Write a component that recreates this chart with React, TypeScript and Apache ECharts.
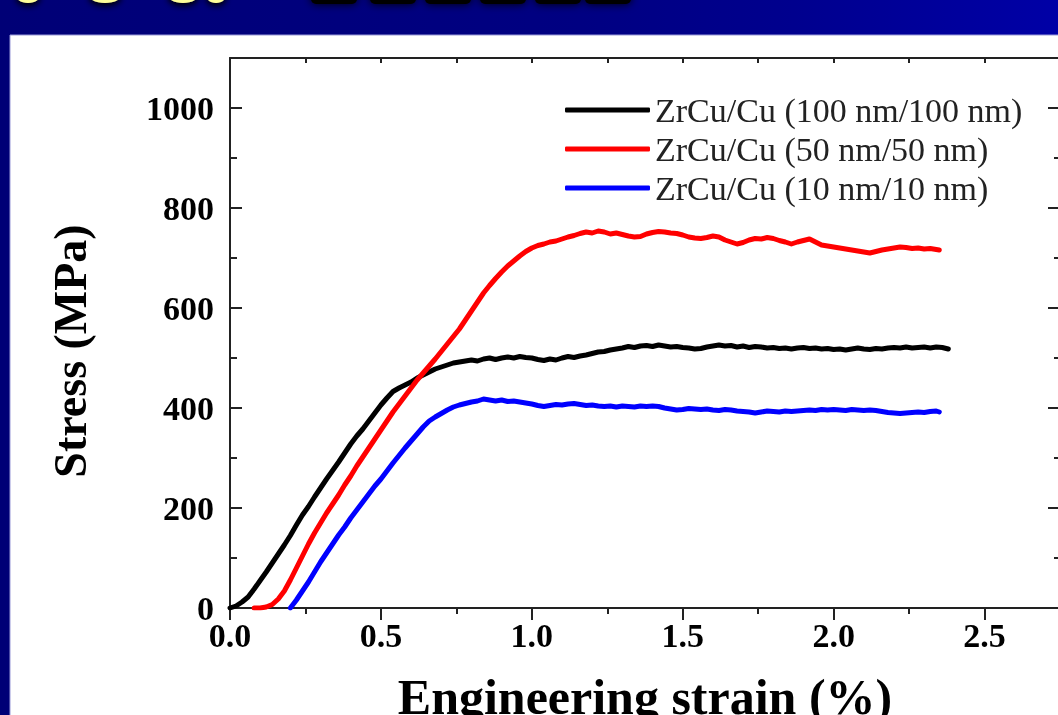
import React, { useEffect, useRef } from "react";
import * as echarts from "echarts";

// Stress–strain curves, [engineering strain (%), stress (MPa)]
const zrcu100: [number, number][] = [
  [0, 0], [0.02, 4], [0.04, 12], [0.06, 22], [0.08, 38], [0.1, 55], [0.12, 72], [0.14, 90],
  [0.16, 108], [0.18, 126], [0.2, 145], [0.22, 166], [0.24, 186], [0.26, 203], [0.28, 222],
  [0.3, 240], [0.32, 258], [0.34, 275], [0.36, 292], [0.38, 310], [0.4, 328], [0.42, 344],
  [0.44, 358], [0.46, 374], [0.48, 390], [0.5, 406], [0.52, 420], [0.54, 433], [0.56, 440],
  [0.58, 446], [0.6, 452], [0.62, 460], [0.64, 466], [0.66, 472], [0.68, 478], [0.7, 482],
  [0.72, 486], [0.74, 490], [0.76, 492], [0.78, 494], [0.8, 496], [0.82, 494], [0.84, 498],
  [0.86, 500], [0.88, 497], [0.9, 500], [0.92, 502], [0.94, 500], [0.96, 503], [0.98, 501],
  [1.0, 500], [1.02, 497], [1.04, 495], [1.06, 498], [1.08, 496], [1.1, 500], [1.12, 503],
  [1.14, 501], [1.16, 504], [1.18, 506], [1.2, 509], [1.22, 512], [1.24, 513], [1.26, 516],
  [1.28, 518], [1.3, 520], [1.32, 523], [1.34, 521], [1.36, 524], [1.38, 525], [1.4, 523],
  [1.42, 526], [1.44, 524], [1.46, 522], [1.48, 523], [1.5, 521], [1.52, 520], [1.54, 518],
  [1.56, 519], [1.58, 522], [1.6, 524], [1.62, 526], [1.64, 524], [1.66, 525], [1.68, 522],
  [1.7, 524], [1.72, 521], [1.74, 523], [1.76, 522], [1.78, 520], [1.8, 521], [1.82, 519],
  [1.84, 520], [1.86, 518], [1.88, 520], [1.9, 521], [1.92, 519], [1.94, 520], [1.96, 518],
  [1.98, 519], [2.0, 517], [2.02, 518], [2.04, 516], [2.06, 518], [2.08, 520], [2.1, 518],
  [2.12, 517], [2.14, 519], [2.16, 518], [2.18, 520], [2.2, 521], [2.22, 520], [2.24, 522],
  [2.26, 520], [2.28, 521], [2.3, 522], [2.32, 520], [2.34, 522], [2.36, 521], [2.38, 518],
];

const zrcu50: [number, number][] = [
  [0.08, 0], [0.1, 0], [0.12, 2], [0.14, 7], [0.16, 18], [0.18, 34], [0.2, 56], [0.22, 80],
  [0.24, 104], [0.26, 128], [0.28, 150], [0.3, 170], [0.32, 190], [0.34, 208], [0.36, 226],
  [0.38, 246], [0.4, 264], [0.42, 284], [0.44, 302], [0.46, 320], [0.48, 338], [0.5, 356],
  [0.52, 374], [0.54, 392], [0.56, 408], [0.58, 424], [0.6, 440], [0.62, 456], [0.64, 470],
  [0.66, 484], [0.68, 498], [0.7, 513], [0.72, 528], [0.74, 543], [0.76, 558], [0.78, 576],
  [0.8, 594], [0.82, 612], [0.84, 630], [0.86, 645], [0.88, 659], [0.9, 672], [0.92, 684],
  [0.94, 694], [0.96, 704], [0.98, 713], [1.0, 720], [1.02, 725], [1.04, 728], [1.06, 732],
  [1.08, 734], [1.1, 738], [1.12, 742], [1.14, 745], [1.16, 749], [1.18, 752], [1.2, 750],
  [1.22, 754], [1.24, 752], [1.26, 748], [1.28, 750], [1.3, 747], [1.32, 744], [1.34, 742],
  [1.36, 743], [1.38, 748], [1.4, 751], [1.42, 753], [1.44, 752], [1.46, 750], [1.48, 749],
  [1.5, 746], [1.52, 742], [1.54, 740], [1.56, 739], [1.58, 741], [1.6, 744], [1.62, 742],
  [1.64, 736], [1.66, 732], [1.68, 728], [1.7, 731], [1.72, 736], [1.74, 739], [1.76, 738],
  [1.78, 741], [1.8, 739], [1.82, 735], [1.84, 732], [1.86, 728], [1.88, 732], [1.9, 735],
  [1.92, 738], [1.94, 732], [1.96, 726], [1.98, 724], [2.0, 722], [2.02, 720], [2.04, 718],
  [2.06, 716], [2.08, 714], [2.1, 712], [2.12, 710], [2.14, 713], [2.16, 716], [2.18, 718],
  [2.2, 720], [2.22, 722], [2.24, 721], [2.26, 719], [2.28, 720], [2.3, 718], [2.32, 719],
  [2.34, 717], [2.35, 716],
];

const zrcu10: [number, number][] = [
  [0.2, 0], [0.22, 16], [0.24, 34], [0.26, 52], [0.28, 72], [0.3, 92], [0.32, 110], [0.34, 128],
  [0.36, 146], [0.38, 162], [0.4, 180], [0.42, 196], [0.44, 212], [0.46, 228], [0.48, 244],
  [0.5, 258], [0.52, 274], [0.54, 290], [0.56, 305], [0.58, 320], [0.6, 334], [0.62, 348],
  [0.64, 362], [0.66, 374], [0.68, 382], [0.7, 389], [0.72, 396], [0.74, 402], [0.76, 406],
  [0.78, 409], [0.8, 412], [0.82, 414], [0.84, 418], [0.86, 416], [0.88, 414], [0.9, 416],
  [0.92, 413], [0.94, 414], [0.96, 412], [0.98, 410], [1.0, 408], [1.02, 405], [1.04, 403],
  [1.06, 405], [1.08, 407], [1.1, 406], [1.12, 408], [1.14, 409], [1.16, 407], [1.18, 405],
  [1.2, 406], [1.22, 404], [1.24, 403], [1.26, 404], [1.28, 402], [1.3, 404], [1.32, 403],
  [1.34, 402], [1.36, 404], [1.38, 403], [1.4, 404], [1.42, 403], [1.44, 400], [1.46, 398],
  [1.48, 396], [1.5, 397], [1.52, 399], [1.54, 398], [1.56, 397], [1.58, 398], [1.6, 396],
  [1.62, 395], [1.64, 397], [1.66, 396], [1.68, 394], [1.7, 393], [1.72, 392], [1.74, 390],
  [1.76, 392], [1.78, 394], [1.8, 393], [1.82, 392], [1.84, 394], [1.86, 393], [1.88, 394],
  [1.9, 395], [1.92, 396], [1.94, 395], [1.96, 397], [1.98, 396], [2.0, 397], [2.02, 396],
  [2.04, 395], [2.06, 397], [2.08, 396], [2.1, 395], [2.12, 396], [2.14, 395], [2.16, 393],
  [2.18, 391], [2.2, 390], [2.22, 389], [2.24, 390], [2.26, 391], [2.28, 392], [2.3, 391],
  [2.32, 393], [2.34, 394], [2.35, 392],
];

const seriesNames = [
  "ZrCu/Cu (100 nm/100 nm)",
  "ZrCu/Cu (50 nm/50 nm)",
  "ZrCu/Cu (10 nm/10 nm)",
];
const seriesColors = ["#000000", "#ff0000", "#0000ff"];
const seriesData = [zrcu100, zrcu50, zrcu10];

const xTitle = "Engineering strain (%)";
const yTitle = "Stress (MPa)";

const FONT = "'Liberation Serif', 'Times New Roman', serif";
const AXIS = "#222";

export default function App() {
  const ref = useRef<HTMLDivElement>(null);

  useEffect(() => {
    if (!ref.current) return;
    const chart = echarts.init(ref.current, undefined, { renderer: "svg" });

    const tickStyle = { color: AXIS, width: 2 };
    const xBase = { type: "value" as const, min: 0, max: 2.75, splitLine: { show: false } };
    const yBase = { type: "value" as const, min: 0, max: 1100, splitLine: { show: false } };

    chart.setOption({
      animation: false,
      textStyle: { fontFamily: FONT },
      graphic: [
        // slide background
        {
          type: "rect",
          z: -20,
          shape: { x: 0, y: 0, width: 1058, height: 715 },
          style: {
            fill: new echarts.graphic.LinearGradient(0, 0, 1, 0, [
              { offset: 0, color: "#000076" },
              { offset: 0.55, color: "#000082" },
              { offset: 0.75, color: "#00008e" },
              { offset: 1, color: "#0000a6" },
            ]),
          },
        },
        {
          type: "rect",
          z: -19,
          shape: { x: 10, y: 35, width: 1060, height: 700 },
          style: { fill: "#ffffff", stroke: "#9a9ad8", lineWidth: 1 },
        },
        // clipped slide heading
        ...[
          [28, 12],
          [105, 16],
          [183, 15],
          [216, 10],
        ].map(([cx, rx]) => ({
          type: "ellipse",
          z: -18,
          shape: { cx, cy: -5, rx, ry: 8 },
          style: { fill: "#ffff99", shadowBlur: 6, shadowColor: "#000", shadowOffsetY: 3 },
        })),
        ...[311, 370, 425, 480, 535, 585].map((x) => ({
          type: "rect",
          z: -18,
          shape: { x, y: -14, width: 46, height: 18, r: 5 },
          style: { fill: "#000", shadowBlur: 8, shadowColor: "#000" },
        })),
      ],
      grid: {
        left: 230,
        top: 58,
        width: 830,
        height: 550,
        containLabel: false,
        outerBoundsMode: "none",
      },
      legend: {
        data: seriesNames,
        orient: "vertical",
        left: 560,
        top: 88,
        itemWidth: 85,
        itemHeight: 5,
        itemGap: 5,
        icon: "roundRect",
        textStyle: { fontFamily: FONT, fontSize: 34, color: "#222" },
      },
      xAxis: [
        {
          ...xBase,
          position: "bottom",
          interval: 0.5,
          axisLine: { show: true, onZero: false, lineStyle: tickStyle },
          axisTick: { show: true, inside: false, length: 12, lineStyle: tickStyle },
          axisLabel: {
            fontFamily: FONT,
            fontSize: 34,
            fontWeight: "bold",
            color: "#000",
            margin: 10,
            showMaxLabel: false,
            formatter: (v: number) => v.toFixed(1),
          },
          name: xTitle,
          nameLocation: "middle",
          nameGap: 64,
          nameTextStyle: { fontFamily: FONT, fontSize: 50, fontWeight: "bold", color: "#000" },
        },
        {
          ...xBase,
          position: "bottom",
          interval: 0.25,
          axisLine: { show: false, onZero: false },
          axisTick: { show: true, inside: false, length: 6, lineStyle: tickStyle },
          axisLabel: { show: false },
        },
        {
          ...xBase,
          position: "top",
          interval: 0.25,
          axisLine: { show: true, onZero: false, lineStyle: tickStyle },
          axisTick: { show: true, inside: true, length: 5, lineStyle: tickStyle },
          axisLabel: { show: false },
        },
      ],
      yAxis: [
        {
          ...yBase,
          position: "left",
          interval: 200,
          axisLine: { show: true, onZero: false, lineStyle: tickStyle },
          axisTick: { show: true, inside: true, length: 12, lineStyle: tickStyle },
          axisLabel: {
            fontFamily: FONT,
            fontSize: 34,
            fontWeight: "bold",
            color: "#000",
            margin: 16,
            showMaxLabel: false,
            formatter: (v: number) => String(v),
          },
          name: yTitle,
          nameLocation: "middle",
          nameGap: 137,
          nameRotate: 90,
          nameTextStyle: {
            fontFamily: FONT,
            fontSize: 46,
            fontWeight: "bold",
            color: "#000",
            padding: [0, 36, 0, 0],
          },
        },
        {
          ...yBase,
          position: "left",
          interval: 100,
          axisLine: { show: false, onZero: false },
          axisTick: { show: true, inside: true, length: 7, lineStyle: tickStyle },
          axisLabel: { show: false },
        },
        {
          ...yBase,
          position: "right",
          interval: 200,
          axisLine: { show: true, onZero: false, lineStyle: tickStyle },
          axisTick: { show: true, inside: true, length: 12, lineStyle: tickStyle },
          axisLabel: { show: false },
        },
        {
          ...yBase,
          position: "right",
          interval: 100,
          axisLine: { show: false, onZero: false },
          axisTick: { show: true, inside: true, length: 6, lineStyle: tickStyle },
          axisLabel: { show: false },
        },
      ],
      series: seriesData.map((data, i) => ({
        type: "line",
        name: seriesNames[i],
        data,
        xAxisIndex: 0,
        yAxisIndex: 0,
        symbol: "none",
        showSymbol: false,
        smooth: false,
        color: seriesColors[i],
        lineStyle: { color: seriesColors[i], width: 5, join: "round", cap: "round" },
        itemStyle: { color: seriesColors[i] },
      })),
    });

    return () => chart.dispose();
  }, []);

  return (
    <div
      ref={ref}
      style={{ position: "fixed", left: 0, top: 0, width: 1058, height: 715 }}
    />
  );
}
